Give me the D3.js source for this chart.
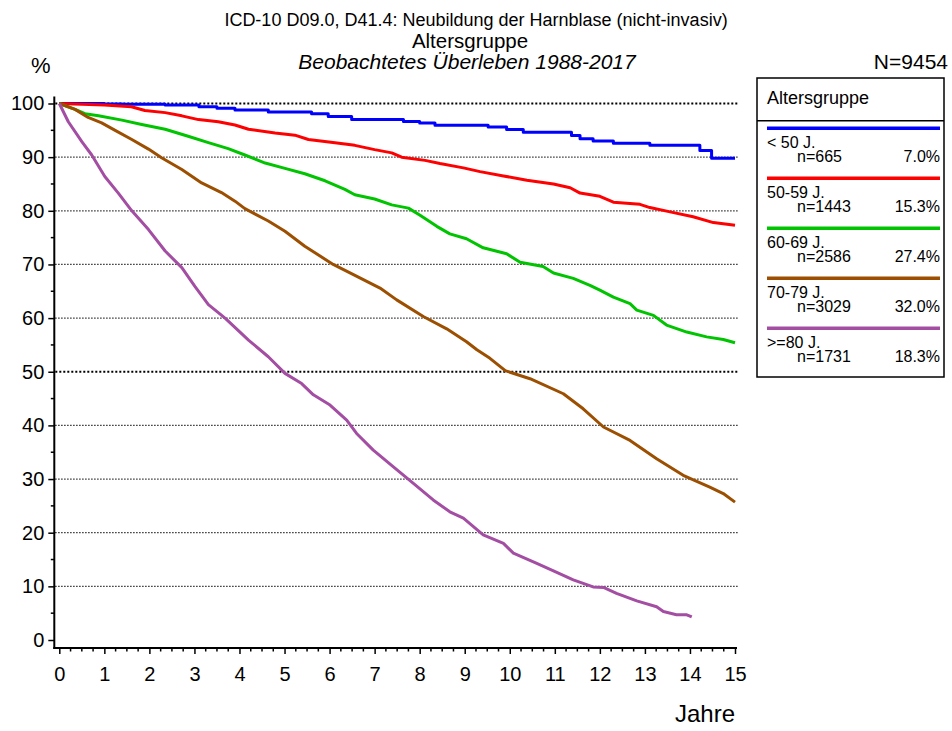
<!DOCTYPE html>
<html>
<head>
<meta charset="utf-8">
<script src="https://cdn.jsdelivr.net/npm/d3@7/dist/d3.min.js"></script>
<style>
  body { margin: 0; background: #fff; }
  svg { display: block; font-family: "Liberation Sans", Arial, sans-serif; }
</style>
</head>
<body>
<svg id="chart" width="952" height="731"></svg>
<script>
// ---------- data ----------
const groups = ["< 50 J.", "50-59 J.", "60-69 J.", "70-79 J.", ">=80 J."];
const groupN = [665, 1443, 2586, 3029, 1731];
const groupPct = ["7.0%", "15.3%", "27.4%", "32.0%", "18.3%"];
const colors = ["#0000ff", "#ff0000", "#00c400", "#9c4f00", "#a34ea3"];

const xTicks = [0,1,2,3,4,5,6,7,8,9,10,11,12,13,14,15];
const yTicks = [0,10,20,30,40,50,60,70,80,90,100];

// survival curves: [years, percent]
const lt50 = [[0,100],[1.0,99.9],[1.4,99.85],[2.35,99.7],[3.1,99.4],[3.5,99.1],[3.9,98.8],[4.64,98.4],[5.6,98.1],[5.97,97.6],[6.49,97.0],[7.64,96.65],[8.0,96.35],[8.34,95.95],[9.52,95.6],[9.93,95.15],[10.3,94.65],[11.37,94.05],[11.56,93.45],[11.85,93.0],[12.3,92.6],[13.11,92.2],[14.22,91.25],[14.48,89.8],[15.0,89.8]];
const g5059 = [[0,100],[1.0,99.7],[1.6,99.4],[1.9,98.7],[2.35,98.3],[2.72,97.7],[3.09,97.0],[3.53,96.6],[3.9,96.0],[4.2,95.2],[4.79,94.5],[5.23,94.1],[5.53,93.3],[6.12,92.7],[6.56,92.2],[7.0,91.4],[7.38,90.8],[7.6,90.0],[8.12,89.4],[8.45,88.8],[8.97,88.0],[9.34,87.3],[9.86,86.5],[10.38,85.7],[10.97,85.0],[11.34,84.3],[11.56,83.3],[12.0,82.7],[12.3,81.6],[12.89,81.2],[13.11,80.6],[13.56,79.8],[14.07,78.9],[14.52,77.8],[15.0,77.3]];
const g6069 = [[0,100],[0.35,98.9],[0.57,98.1],[0.87,97.7],[1.39,96.9],[1.83,96.1],[2.35,95.2],[2.86,93.9],[3.31,92.7],[3.75,91.6],[4.12,90.4],[4.57,88.9],[5.01,87.9],[5.45,86.9],[5.9,85.6],[6.34,84.0],[6.56,83.0],[7.0,82.2],[7.38,81.1],[7.75,80.5],[8.0,79.2],[8.38,77.1],[8.67,75.7],[9.04,74.8],[9.41,73.1],[9.93,72.0],[10.23,70.4],[10.74,69.6],[10.97,68.4],[11.41,67.4],[11.78,66.1],[12.0,65.2],[12.3,63.9],[12.67,62.7],[12.82,61.5],[13.19,60.5],[13.48,58.7],[13.93,57.4],[14.37,56.5],[14.74,56.0],[15.0,55.4]];
const g7079 = [[0,100],[0.35,98.9],[0.64,97.4],[0.94,96.4],[1.24,95.0],[1.61,93.3],[1.98,91.5],[2.27,89.9],[2.72,87.7],[3.16,85.2],[3.6,83.4],[3.9,81.8],[4.12,80.4],[4.64,78.1],[5.01,76.2],[5.45,73.4],[6.08,70.0],[6.53,68.1],[7.12,65.6],[7.49,63.4],[8.08,60.3],[8.6,58.0],[9.04,55.6],[9.27,54.1],[9.56,52.5],[9.9,50.2],[10.45,48.7],[11.19,45.9],[11.63,43.1],[12.08,39.7],[12.67,37.2],[13.26,33.8],[13.85,30.7],[14.44,28.5],[14.74,27.3],[15.0,25.7]];
const ge80 = [[0,100],[0.2,96.6],[0.5,92.9],[0.72,90.4],[1.01,86.4],[1.31,83.3],[1.61,80.0],[1.98,76.5],[2.35,72.5],[2.72,69.4],[3.01,65.9],[3.31,62.5],[3.68,60.0],[4.2,55.9],[4.64,52.8],[5.01,49.7],[5.38,47.8],[5.64,45.7],[6.01,43.8],[6.38,41.0],[6.6,38.5],[6.97,35.4],[7.41,32.3],[7.86,29.2],[8.3,26.1],[8.67,23.9],[8.97,22.7],[9.41,19.6],[9.86,18.0],[10.08,16.2],[10.6,14.3],[10.97,12.9],[11.41,11.2],[11.85,9.9],[12.08,9.8],[12.37,8.7],[12.82,7.3],[13.26,6.2],[13.41,5.3],[13.7,4.7],[13.93,4.7],[14.04,4.3]];
const curves = [lt50, g5059, g6069, g7079, ge80];
const curveStep = [true, false, false, false, false];

// ---------- layout ----------
const svg = d3.select("#chart");
const x = d3.scaleLinear().domain([0, 15]).range([59.3, 735]);
const y = d3.scaleLinear().domain([0, 100]).range([640, 103.5]);
const axisY = y(0) + 8;     // x-axis line position
const axisX = x(0) - 5;     // y-axis line position

// gridlines
svg.append("g").selectAll("line").data(yTicks.filter(d => d > 0)).join("line")
  .attr("x1", axisX + 1).attr("x2", x(15) + 3)
  .attr("y1", d => y(d)).attr("y2", d => y(d))
  .attr("stroke", "#000")
  .attr("stroke-width", d => (d === 100 || d === 50) ? 2 : 1.2)
  .attr("stroke-dasharray", d => (d === 100 || d === 50) ? "2,2" : "1.2,1.8");

// y axis
const yAxis = d3.axisLeft(y).tickValues(yTicks).tickSize(6).tickPadding(4).tickFormat(d3.format("d"));
const gy = svg.append("g").attr("transform", `translate(${axisX},0)`).call(yAxis);
gy.select(".domain").remove();
gy.selectAll(".tick line").attr("stroke-width", 1.5);
gy.selectAll(".tick text").attr("font-size", 20).attr("font-family", "Liberation Sans, Arial, sans-serif").attr("fill", "#000");
const yMinor = d3.range(5, 100, 10);
svg.append("g").selectAll("line").data(yMinor).join("line")
  .attr("x1", axisX - 3.5).attr("x2", axisX)
  .attr("y1", d => y(d)).attr("y2", d => y(d))
  .attr("stroke", "#000").attr("stroke-width", 1.5);
svg.append("line").attr("x1", axisX).attr("x2", axisX)
  .attr("y1", y(101.3)).attr("y2", axisY + 1)
  .attr("stroke", "#000").attr("stroke-width", 2);

// x axis
const xAxis = d3.axisBottom(x).tickValues(xTicks).tickSize(6).tickPadding(13).tickFormat(d3.format("d"));
const gx = svg.append("g").attr("transform", `translate(0,${axisY})`).call(xAxis);
gx.select(".domain").remove();
gx.selectAll(".tick line").attr("stroke-width", 1.5);
gx.selectAll(".tick text").attr("font-size", 20).attr("font-family", "Liberation Sans, Arial, sans-serif").attr("fill", "#000");
const xMinor = d3.range(0, 15, 0.25).filter(d => d % 1 !== 0);
svg.append("g").selectAll("line").data(xMinor).join("line")
  .attr("x1", d => x(d)).attr("x2", d => x(d))
  .attr("y1", axisY).attr("y2", axisY + 3.5)
  .attr("stroke", "#000").attr("stroke-width", 1.5);
svg.append("line").attr("x1", axisX - 1).attr("x2", x(15) + 2)
  .attr("y1", axisY).attr("y2", axisY)
  .attr("stroke", "#000").attr("stroke-width", 2);

// curves
curves.forEach((c, i) => {
  const line = d3.line().x(d => x(d[0])).y(d => y(d[1]))
    .curve(curveStep[i] ? d3.curveStepAfter : d3.curveLinear);
  svg.append("path").datum(c).attr("d", line)
    .attr("fill", "none").attr("stroke", colors[i]).attr("stroke-width", 3)
    .attr("stroke-linejoin", "round");
});

// titles
svg.append("text").attr("x", 476).attr("y", 26).attr("text-anchor", "middle")
  .attr("font-size", 18).text("ICD-10 D09.0, D41.4: Neubildung der Harnblase (nicht-invasiv)");
svg.append("text").attr("x", 470).attr("y", 47.5).attr("text-anchor", "middle")
  .attr("font-size", 20.5).text("Altersgruppe");
svg.append("text").attr("x", 467).attr("y", 69).attr("text-anchor", "middle")
  .attr("font-size", 21).attr("font-style", "italic").text("Beobachtetes Überleben 1988-2017");
svg.append("text").attr("x", 31).attr("y", 73).attr("font-size", 22).text("%");
svg.append("text").attr("x", 948).attr("y", 69).attr("text-anchor", "end")
  .attr("font-size", 21).text("N=9454");
svg.append("text").attr("x", 735).attr("y", 722).attr("text-anchor", "end")
  .attr("font-size", 24).text("Jahre");

// legend
const lg = svg.append("g");
lg.append("rect").attr("x", 757).attr("y", 78).attr("width", 187).attr("height", 299)
  .attr("fill", "#fff").attr("stroke", "#000").attr("stroke-width", 1.5);
lg.append("line").attr("x1", 757).attr("x2", 944).attr("y1", 120.7).attr("y2", 120.7)
  .attr("stroke", "#000").attr("stroke-width", 1.5);
lg.append("text").attr("x", 767).attr("y", 103.5).attr("font-size", 18).text("Altersgruppe");
groups.forEach((g, i) => {
  const L = 128.3 + 50 * i;
  lg.append("line").attr("x1", 767).attr("x2", 940).attr("y1", L).attr("y2", L)
    .attr("stroke", colors[i]).attr("stroke-width", 3.5);
  lg.append("text").attr("x", 767).attr("y", L + 20).attr("font-size", 16).text(g);
  lg.append("text").attr("x", 797).attr("y", L + 34).attr("font-size", 16).text("n=" + groupN[i]);
  lg.append("text").attr("x", 940).attr("y", L + 34).attr("text-anchor", "end")
    .attr("font-size", 16).text(groupPct[i]);
});
</script>
</body>
</html>
